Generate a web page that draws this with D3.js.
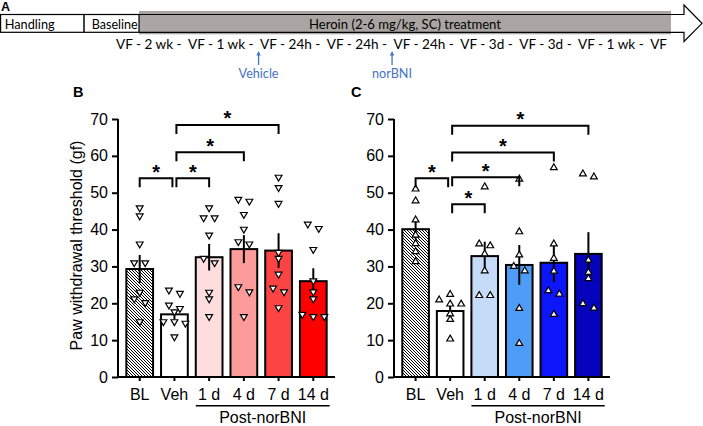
<!DOCTYPE html>
<html>
<head>
<meta charset="utf-8">
<script src="https://cdn.jsdelivr.net/npm/d3@7"></script>
<style>
  html, body { margin: 0; padding: 0; background: #fff; }
  svg { display: block; }
</style>
</head>
<body>
<svg id="canvas" width="703" height="426"></svg>
<script>
(() => {
    // Data.
    const GROUPS = ["BL", "Veh", "1 d", "4 d", "7 d", "14 d"];
    const POST_GROUPS = ["1 d", "4 d", "7 d", "14 d"];

    const B_MEANS = [29.3, 17.0, 32.5, 34.7, 34.3, 26.0];
    const B_SEM = [3.8, 1.4, 3.6, 3.8, 4.7, 3.5];
    const B_POINTS = [
        [45.9, 43.7, 36.1, 31.0, 31.0, 23.0, 21.2, 20.2, 15.0],
        [23.6, 22.7, 19.5, 18.6, 17.7, 15.0, 15.0, 14.6, 10.9],
        [45.9, 43.2, 43.2, 38.5, 32.2, 31.0, 23.0, 21.2, 16.4],
        [48.2, 47.7, 44.1, 40.1, 36.7, 36.1, 24.5, 23.1, 16.4],
        [54.2, 51.4, 47.1, 33.8, 32.2, 27.9, 24.1, 23.1, 18.8],
        [41.5, 40.3, 34.6, 26.1, 23.1, 21.2, 17.0, 16.4, 16.4]
    ];
    const B_BRACKETS = [
        ["BL", "Veh", 53.9],
        ["Veh", "1 d", 53.9],
        ["Veh", "4 d", 61.0],
        ["Veh", "7 d", 68.4]
    ];

    const C_MEANS = [40.1, 17.9, 32.8, 30.4, 31.0, 33.4];
    const C_SEM = [2.6, 1.4, 3.9, 5.4, 5.3, 5.9];
    const C_POINTS = [
        [51.0, 47.8, 42.6, 38.5, 36.2, 34.0, 31.3],
        [22.4, 20.9, 19.8, 19.8, 17.1, 15.6, 10.3],
        [51.6, 36.1, 35.6, 33.4, 28.8, 22.1, 22.1],
        [53.7, 39.4, 33.1, 30.0, 28.8, 18.6, 9.1],
        [56.8, 36.1, 32.2, 28.7, 23.4, 22.5, 17.0],
        [55.1, 54.3, 31.7, 28.4, 26.7, 19.9, 18.7]
    ];
    const C_BRACKETS = [
        ["BL", "Veh", 53.9],
        ["Veh", "1 d", 46.9],
        ["Veh", "4 d", 54.2],
        ["Veh", "7 d", 60.9],
        ["Veh", "14 d", 68.2]
    ];

    const Y_TICKS = [0, 10, 20, 30, 40, 50, 60, 70];

    const B_FILLS = ["url(#hatch)", "#ffffff", "#fddddd", "#fe9b9b", "#fd4444", "#fe0000"];
    const C_FILLS = ["url(#hatch)", "#ffffff", "#c6dbf7", "#4d9df6", "#0d16fb", "#0603bd"];

    // Timeline (panel A).
    const TIMELINE_STEPS = ["2 wk", "1 wk", "24h", "24h", "24h", "3d", "3d", "1 wk"];
    const INJECTIONS = [
        { visit: 2, label: "Vehicle" },
        { visit: 4, label: "norBNI" }
    ];

    const FONT = "'Liberation Sans', Arial, sans-serif";
    const TL_FONT = "Lato, 'Open Sans', sans-serif";
    const TL_SIZE = 13;
    const BLUE = "#4472c4";

    let canvas = d3.select("#canvas");

    let defs = canvas.append("defs");
    let hatch = defs.append("pattern")
        .attr("id", "hatch")
        .attr("patternUnits", "userSpaceOnUse")
        .attr("width", 3)
        .attr("height", 3);
    hatch.append("rect").attr("width", 3).attr("height", 3).attr("fill", "#fff");
    hatch.append("path")
        .attr("d", "M-1,-1L4,4M-1,2L1,4M2,-1L4,1")
        .attr("stroke", "#000")
        .attr("stroke-width", 1);

    function drawTimeline() {
        let g = canvas.append("g");

        g.append("text")
            .attr("x", 1).attr("y", 11)
            .attr("font-family", FONT).attr("font-weight", "bold").attr("font-size", 12.5)
            .text("A");

        // Gray treatment band.
        g.append("rect")
            .attr("x", 139).attr("y", 11)
            .attr("width", 532).attr("height", 23.3)
            .attr("fill", "#aaa5a2");

        // Open arrow outline.
        g.append("path")
            .attr("d", "M139,14.5L684,14.5L684,5L702,23.3L684,41.5L684,32.3L139,32.3")
            .attr("fill", "none")
            .attr("stroke", "#000")
            .attr("stroke-width", 1.2);

        g.append("rect")
            .attr("x", 0.6).attr("y", 14.5)
            .attr("width", 83.5).attr("height", 17.8)
            .attr("fill", "#fff").attr("stroke", "#000").attr("stroke-width", 1.2);
        g.append("rect")
            .attr("x", 84.1).attr("y", 14.5)
            .attr("width", 54.9).attr("height", 17.8)
            .attr("fill", "#fff").attr("stroke", "#000").attr("stroke-width", 1.2);

        let label = (x, y, txt, len, color) => g.append("text")
            .attr("x", x).attr("y", y)
            .attr("font-family", TL_FONT).attr("font-size", TL_SIZE)
            .attr("fill", color || "#000")
            .attr("textLength", len)
            .attr("lengthAdjust", "spacingAndGlyphs")
            .text(txt);

        label(4.7, 28.5, "Handling", 50);
        label(91.7, 28.5, "Baseline", 46);
        label(309, 28.5, "Heroin (2-6 mg/kg, SC) treatment", 192);

        // Visit row.
        let row = "VF";
        TIMELINE_STEPS.forEach(s => { row += " - " + s + " -  VF"; });
        let rowText = g.append("text")
            .attr("x", 116).attr("y", 48.5)
            .attr("font-family", TL_FONT).attr("font-size", TL_SIZE)
            .style("white-space", "pre")
            .attr("textLength", 551)
            .attr("lengthAdjust", "spacingAndGlyphs")
            .text(row);

        // Find the start of each "VF" in the row.
        let vfIdx = [];
        let at = row.indexOf("VF");
        while (at >= 0) { vfIdx.push(at); at = row.indexOf("VF", at + 1); }

        INJECTIONS.forEach(inj => {
            let x;
            try {
                x = rowText.node().getStartPositionOfChar(vfIdx[inj.visit]).x - 1.5;
            } catch (e) {
                x = inj.visit === 2 ? 260.5 : 395.8;
            }
            g.append("line")
                .attr("x1", x).attr("x2", x)
                .attr("y1", 53).attr("y2", 65)
                .attr("stroke", BLUE).attr("stroke-width", 1.3);
            g.append("path")
                .attr("d", `M${x - 2.2},${55.5}L${x},${51}L${x + 2.2},${55.5}Z`)
                .attr("fill", BLUE);
            g.append("text")
                .attr("x", x - 20).attr("y", 78)
                .attr("font-family", TL_FONT).attr("font-size", TL_SIZE)
                .attr("fill", BLUE)
                .attr("textLength", 40)
                .attr("lengthAdjust", "spacingAndGlyphs")
                .text(inj.label);
        });
    }

    // Place points in rows like a small beeswarm.
    function swarm(values, y, w) {
        let sorted = values.slice().sort((a, b) => b - a);
        let rows = [];
        sorted.forEach(v => {
            let r = rows[rows.length - 1];
            if (r && Math.abs(y(r[0]) - y(v)) < 5.3) r.push(v);
            else rows.push([v]);
        });
        return rows.flatMap(r => r.map((v, i) => ({ v: v, dx: (i - (r.length - 1) / 2) * w })));
    }

    function drawPanel(opts) {
        let g = canvas.append("g");
        let x = d3.scaleBand()
            .domain(GROUPS)
            .range([opts.left, opts.right])
            .paddingInner(0.23)
            .paddingOuter(0.24);
        let y = d3.scaleLinear().domain([0, 70]).range([377, 119]);
        let cx = d => x(d) + x.bandwidth() / 2;

        g.append("text")
            .attr("x", opts.letterX).attr("y", 96.5)
            .attr("font-family", FONT).attr("font-weight", "bold").attr("font-size", 14.5)
            .text(opts.letter);

        // Bars.
        let bars = GROUPS.map((k, i) => ({ key: k, mean: opts.means[i], sem: opts.sem[i], fill: opts.fills[i], pts: opts.points[i] }));
        g.selectAll("rect.bar").data(bars).enter()
            .append("rect")
            .classed("bar", true)
            .attr("x", d => x(d.key))
            .attr("y", d => y(d.mean))
            .attr("width", x.bandwidth())
            .attr("height", d => y(0) - y(d.mean))
            .attr("fill", d => d.fill)
            .attr("stroke", "#000")
            .attr("stroke-width", 2);

        // Error bars (mean +/- SEM).
        g.selectAll("line.err").data(bars).enter()
            .append("line")
            .classed("err", true)
            .attr("x1", d => cx(d.key)).attr("x2", d => cx(d.key))
            .attr("y1", d => y(d.mean - d.sem))
            .attr("y2", d => y(d.mean + d.sem))
            .attr("stroke", "#000")
            .attr("stroke-width", 2);

        // Individual animals.
        let tri = d3.symbol().type(d3.symbolTriangle).size(20);
        bars.forEach(b => {
            g.selectAll(null).data(swarm(b.pts, y, 11)).enter()
                .append("path")
                .attr("d", tri)
                .attr("transform", d => `translate(${cx(b.key) + d.dx},${y(d.v)})` + (opts.down ? " rotate(180)" : ""))
                .attr("fill", "#fff")
                .attr("stroke", "#000")
                .attr("stroke-width", 1.2);
        });

        // Axes.
        let yAxis = g.append("g")
            .attr("transform", `translate(${opts.left},0)`)
            .call(d3.axisLeft(y).tickValues(Y_TICKS).tickSize(6).tickSizeOuter(0).tickPadding(4));
        let xAxis = g.append("g")
            .attr("transform", `translate(0,${y(0)})`)
            .call(d3.axisBottom(x).tickSize(4).tickSizeOuter(0).tickPadding(8));
        [yAxis, xAxis].forEach(a => {
            a.selectAll("path, line").attr("stroke", "#000").attr("stroke-width", 2);
            a.selectAll("text")
                .attr("fill", "#000")
                .attr("font-family", FONT)
                .attr("font-size", 16);
        });
        yAxis.select("path.domain").attr("d", `M0,${y(70)}V${y(0)}`);
        xAxis.select("path.domain").attr("d", `M${opts.left - 1},0H${opts.right}`);

        // Post-norBNI grouping line.
        let px0 = x(POST_GROUPS[0]);
        let px1 = x(POST_GROUPS[POST_GROUPS.length - 1]) + x.bandwidth() + 3;
        g.append("line")
            .attr("x1", px0).attr("x2", px1)
            .attr("y1", 405.7).attr("y2", 405.7)
            .attr("stroke", "#000").attr("stroke-width", 1.5);
        g.append("text")
            .attr("x", (px0 + px1) / 2).attr("y", 423)
            .attr("text-anchor", "middle")
            .attr("font-family", FONT).attr("font-size", 16)
            .text("Post-norBNI");

        // Significance brackets.
        opts.brackets.forEach(br => {
            let x0 = cx(br[0]) + (br[0] === "Veh" ? 2 : 0);
            let x1 = cx(br[1]) - (br[1] === "Veh" ? 2 : 0);
            let yy = y(br[2]);
            g.append("path")
                .attr("d", `M${x0},${yy + 9}V${yy}H${x1}V${yy + 9}`)
                .attr("fill", "none")
                .attr("stroke", "#000")
                .attr("stroke-width", 2);
            g.append("text")
                .attr("x", (x0 + x1) / 2).attr("y", yy + 0.5)
                .attr("text-anchor", "middle")
                .attr("font-family", FONT).attr("font-weight", "bold").attr("font-size", 20)
                .text("*");
        });

        if (opts.title) {
            g.append("text")
                .attr("transform", `translate(81.5,${(y(0) + y(70)) / 2 - 2.5}) rotate(-90)`)
                .attr("text-anchor", "middle")
                .attr("font-family", FONT).attr("font-size", 16)
                .text(opts.title);
        }
    }

    drawTimeline();

    drawPanel({
        letter: "B", letterX: 73, left: 118, right: 335,
        means: B_MEANS, sem: B_SEM, points: B_POINTS, fills: B_FILLS,
        brackets: B_BRACKETS, down: true,
        title: "Paw withdrawal threshold (gf)"
    });

    drawPanel({
        letter: "C", letterX: 351, left: 394, right: 610,
        means: C_MEANS, sem: C_SEM, points: C_POINTS, fills: C_FILLS,
        brackets: C_BRACKETS, down: false
    });
})();
</script>
</body>
</html>
